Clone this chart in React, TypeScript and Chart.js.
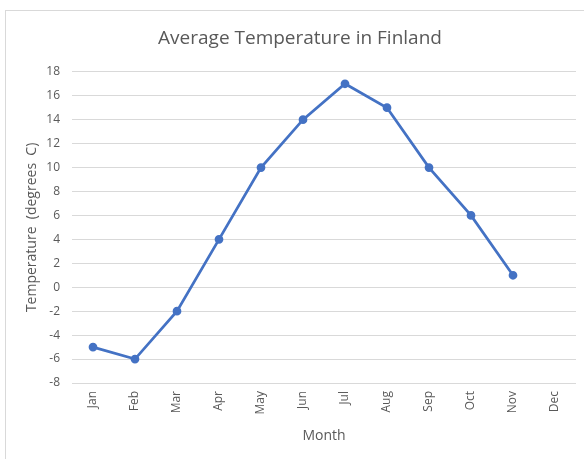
import React, { useEffect, useRef } from "react";
import { Chart, registerables } from "chart.js";

Chart.register(...registerables);

const months = ["Jan", "Feb", "Mar", "Apr", "May", "Jun", "Jul", "Aug", "Sep", "Oct", "Nov", "Dec"];
const temperatures: (number | null)[] = [-5, -6, -2, 4, 10, 14, 17, 15, 10, 6, 1, null];
const yMin = -8;
const yMax = 18;
const yStep = 2;

const FONT = "'Open Sans', sans-serif";
const TEXT = "#595959";
const GRID = "#d9d9d9";

export default function App() {
  const ref = useRef<HTMLCanvasElement | null>(null);

  useEffect(() => {
    if (!ref.current) return;
    const chart = new Chart(ref.current, {
      type: "line",
      data: {
        labels: months,
        datasets: [
          {
            label: "Temperature",
            data: temperatures,
            borderColor: "#4472C4",
            backgroundColor: "#4472C4",
            borderWidth: 2.75,
            pointRadius: 3,
            pointHoverRadius: 3,
            pointBackgroundColor: "#4472C4",
            pointBorderColor: "#4472C4",
            tension: 0,
            spanGaps: false,
          },
        ],
      },
      options: {
        animation: false,
        responsive: false,
        maintainAspectRatio: false,
        events: [],
        layout: { padding: { left: 24, right: 8, top: 0, bottom: 15 } },
        plugins: {
          legend: { display: false },
          tooltip: { enabled: false },
          title: {
            display: true,
            text: "Average Temperature in Finland",
            color: TEXT,
            font: { family: FONT, size: 19, weight: "normal", lineHeight: 1.2 },
            padding: { top: 27, bottom: 22 },
          },
        },
        scales: {
          x: {
            offset: true,
            grid: { display: false, drawTicks: false },
            border: { display: false },
            ticks: {
              color: TEXT,
              font: { family: FONT, size: 12 },
              minRotation: 90,
              maxRotation: 90,
              padding: 8,
              autoSkip: false,
            },
            title: {
              display: true,
              text: "Month",
              color: TEXT,
              font: { family: FONT, size: 14, lineHeight: 1.2 },
              padding: 0,
            },
            afterFit: (scale: any) => {
              scale.height = 61;
            },
          },
          y: {
            min: yMin,
            max: yMax,
            grid: { color: GRID, lineWidth: 1, drawTicks: false },
            border: { display: false },
            ticks: {
              stepSize: yStep,
              color: TEXT,
              font: { family: FONT, size: 12 },
              padding: 12,
            },
            title: {
              display: true,
              text: "Temperature  (degrees  C)",
              color: TEXT,
              font: { family: FONT, size: 14, lineHeight: 1.2 },
              padding: 0,
            },
            afterFit: (scale: any) => {
              scale.width = 48;
            },
          },
        },
      },
    });
    return () => chart.destroy();
  }, []);

  return (
    <div style={{ position: "fixed", left: 0, top: 0, width: 584, height: 459, overflow: "hidden", background: "#fff" }}>
      <div
        style={{
          position: "absolute",
          left: 5,
          top: 10,
          width: 700,
          height: 600,
          border: "1px solid #d9d9d9",
        }}
      />
      <canvas ref={ref} width={584} height={459} style={{ position: "absolute", left: 0, top: 0, width: 584, height: 459 }} />
    </div>
  );
}
